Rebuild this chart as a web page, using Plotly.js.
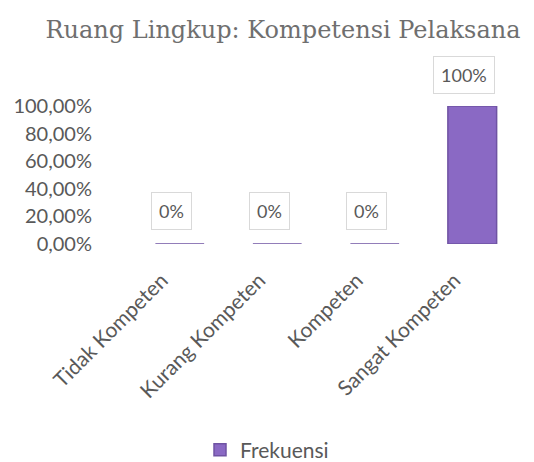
<!DOCTYPE html>
<html>
<head>
<meta charset="utf-8">
<script src="https://cdn.plot.ly/plotly-3.0.1.min.js"></script>
<style>html,body{margin:0;padding:0;background:#fff;}#chart{width:534px;height:462px;}</style>
</head>
<body>
<div id="chart"></div>
<script>
var categories = ["Tidak Kompeten", "Kurang Kompeten", "Kompeten", "Sangat Kompeten"];
var frekuensi = [0, 0, 0, 1];
var dataLabels = ["0%", "0%", "0%", "100%"];
var seriesName = "Frekuensi";
var chartTitle = "Ruang Lingkup: Kompetensi Pelaksana";

var purple = "#8a69c4";
var grey = "#595959";
var fontFam = "Lato, 'Open Sans', sans-serif";

var trace = {
  type: "bar",
  x: categories,
  y: frekuensi,
  name: seriesName,
  width: 0.5,
  marker: {color: purple, line: {color: "#6f53a3", width: 1.5}},
  showlegend: true,
  hoverinfo: "x+y"
};

var annotations = categories.map(function (c, i) {
  return {
    x: c, y: frekuensi[i], xref: "x", yref: "y",
    text: dataLabels[i], showarrow: false,
    xshift: -8, yshift: frekuensi[i] > 0 ? 31 : 33,
    font: {family: fontFam, size: 18, color: grey},
    bgcolor: "#ffffff", bordercolor: "#d9d9d9", borderwidth: 1, borderpad: 7
  };
});

var layout = {
  width: 534, height: 462,
  paper_bgcolor: "#ffffff", plot_bgcolor: "#ffffff",
  separators: ",.",
  margin: {l: 131, r: 13, t: 106, b: 218},
  title: {
    text: chartTitle,
    font: {family: "'DejaVu Serif', 'Liberation Serif', serif", size: 24, color: "#6f6f6f"},
    x: 0.53, xanchor: "center", y: 0.935, yanchor: "middle"
  },
  xaxis: {
    type: "category",
    automargin: false,
    tickangle: -45,
    tickfont: {family: fontFam, size: 21, color: grey},
    ticks: "", ticklabelstandoff: 19, ticklabelshift: -18,
    showline: false, showgrid: false, zeroline: false,
    fixedrange: true
  },
  yaxis: {
    automargin: false,
    range: [0, 1],
    tickvals: [0, 0.2, 0.4, 0.6, 0.8, 1],
    tickformat: ".2%",
    tickfont: {family: fontFam, size: 20, color: grey},
    ticks: "", ticklabelstandoff: 38,
    showgrid: false, zeroline: false, showline: false,
    fixedrange: true
  },
  bargap: 0.5,
  showlegend: true,
  legend: {
    orientation: "h", xref: "container", x: 0.5, xanchor: "center",
    yref: "container", y: 0.026, yanchor: "middle",
    font: {family: fontFam, size: 21, color: grey}
  },
  annotations: annotations
};

Plotly.newPlot("chart", [trace], layout, {displayModeBar: false, staticPlot: true});
</script>
</body>
</html>
